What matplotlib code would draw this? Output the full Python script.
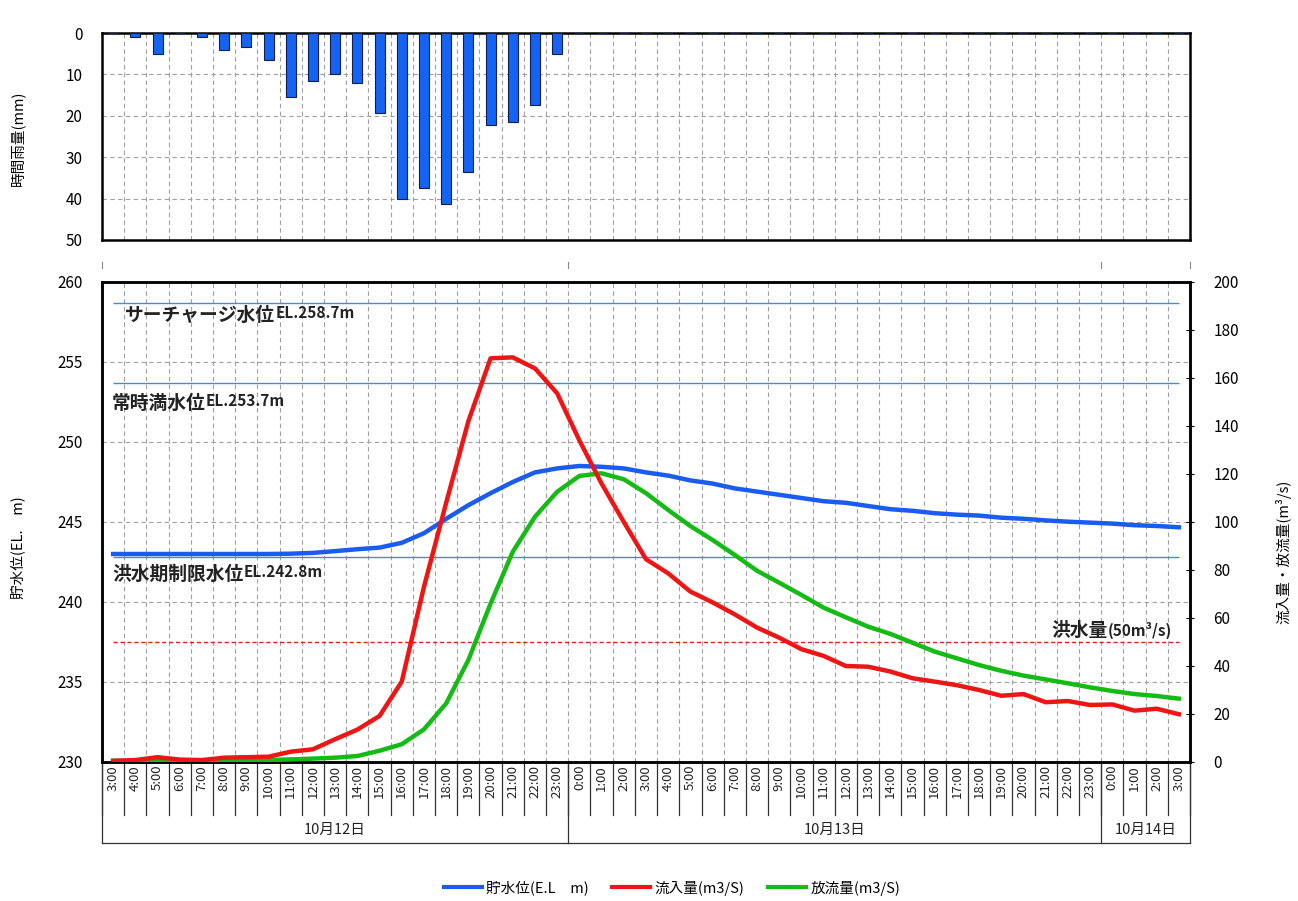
import numpy as np
import matplotlib
matplotlib.use('Agg')
import matplotlib.pyplot as plt
from matplotlib.lines import Line2D

plt.rcParams['font.family'] = ['Noto Sans CJK JP', 'DejaVu Sans']

# ---------------- data ----------------
hour_labels = ['3:00', '4:00', '5:00', '6:00', '7:00', '8:00', '9:00', '10:00', '11:00', '12:00',
               '13:00', '14:00', '15:00', '16:00', '17:00', '18:00', '19:00', '20:00', '21:00',
               '22:00', '23:00',
               '0:00', '1:00', '2:00', '3:00', '4:00', '5:00', '6:00', '7:00', '8:00', '9:00',
               '10:00', '11:00', '12:00', '13:00', '14:00', '15:00', '16:00', '17:00', '18:00',
               '19:00', '20:00', '21:00', '22:00', '23:00',
               '0:00', '1:00', '2:00', '3:00']
day_labels = ['10月12日', '10月13日', '10月14日']
day_counts = [21, 24, 4]

rain = [0, 1, 5, 0, 1, 4, 3.5, 6.5, 15.5, 11.5, 10, 12, 19.3, 40, 37.4, 41.3, 33.6, 22.3,
        21.6, 17.3, 5,
        0, 0, 0, 0, 0, 0, 0, 0, 0, 0, 0, 0, 0, 0, 0, 0, 0, 0, 0, 0, 0, 0, 0, 0, 0, 0, 0, 0]

level = [243.0, 243.0, 243.0, 243.0, 243.0, 243.0, 243.0, 243.0, 243.02, 243.07, 243.18,
         243.3, 243.4, 243.7, 244.3, 245.2, 246.05, 246.8, 247.5, 248.1, 248.35,
         248.5, 248.45, 248.35, 248.1, 247.9, 247.6, 247.4, 247.1, 246.9, 246.7, 246.5,
         246.3, 246.2, 246.0, 245.8, 245.7, 245.55, 245.46, 245.4, 245.27, 245.2, 245.1,
         245.02, 244.96, 244.9, 244.8, 244.75, 244.67]

inflow = [0.5, 0.8, 2, 1, 0.8, 1.8, 2, 2.2, 4.3, 5.3, 9.5, 13.5, 19.2, 33.5, 73, 108, 142,
          168.2, 168.6, 164, 153.6,
          134, 116, 100, 84.5, 78.6, 71, 66.5, 61.5, 56, 51.8, 47, 44.2, 40, 39.7, 37.7,
          34.9, 33.5, 32, 30, 27.6, 28.3, 24.9, 25.4, 23.75, 24, 21.4, 22.2, 19.9]

outflow = [0.5, 0.5, 0.5, 0.5, 0.5, 0.6, 0.7, 0.8, 1.1, 1.4, 1.8, 2.5, 4.7, 7.4, 13.6, 24.4,
           42.5, 66, 87.6, 102.2, 112.6,
           119.2, 120.3, 117.8, 112, 105, 98.3, 92.5, 86.25, 79.7, 74.7, 69.6, 64.3, 60.3,
           56.4, 53.4, 49.7, 46, 43.2, 40.4, 38, 36, 34.4, 32.8, 31.1, 29.6, 28.3, 27.5, 26.4]

ref_levels = [258.7, 253.7, 242.8]
ref_texts = [('サーチャージ水位', 'EL.258.7m'), ('常時満水位', 'EL.253.7m'),
             ('洪水期制限水位', 'EL.242.8m')]
flood_flow = 50

# ---------------- figure ----------------
W, H = 1298, 901
fig = plt.figure(figsize=(W / 100, H / 100), dpi=100)
L, R = 102, 1190
ax_r = fig.add_axes([L / W, 1 - 240 / H, (R - L) / W, (240 - 33) / H])
ax = fig.add_axes([L / W, 1 - 762 / H, (R - L) / W, (762 - 282) / H])
ax2 = ax.twinx()

n = len(hour_labels)
x = np.arange(n)
grid_kw = dict(color='#a0a0a0', linestyle=(0, (4, 3)), linewidth=0.8)

# ---- rainfall panel ----
ax_r.bar(x, rain, width=0.45, color='#1463F2', edgecolor='#0B1E5A', linewidth=0.8, zorder=3)
ax_r.set_xlim(-0.5, n - 0.5)
ax_r.set_ylim(50, 0)
ax_r.set_yticks([0, 10, 20, 30, 40, 50])
ax_r.set_xticks(np.arange(0.5, n - 1, 1.0), minor=True)
ax_r.set_xticks([])
ax_r.grid(True, which='minor', axis='x', **grid_kw)
ax_r.grid(True, which='major', axis='y', **grid_kw)
ax_r.tick_params(axis='x', which='both', length=0, labelbottom=False)
ax_r.tick_params(axis='y', length=0, labelsize=11, pad=14)
for s in ax_r.spines.values():
    s.set_linewidth(1.8)
    s.set_color('black')

# ---- main panel ----
ax.set_xlim(-0.5, n - 0.5)
ax.set_ylim(230, 260)
ax.set_yticks(np.arange(230, 261, 5))
ax2.set_ylim(0, 200)
ax2.set_yticks(np.arange(0, 201, 20))
ax.set_xticks(np.arange(0.5, n - 1, 1.0), minor=True)
ax.set_xticks([])
ax.grid(True, which='minor', axis='x', **grid_kw)
ax.grid(True, which='major', axis='y', **grid_kw)
ax.tick_params(axis='x', which='both', length=0, labelbottom=False)
ax.tick_params(axis='y', length=0, labelsize=11, pad=14)
ax2.tick_params(axis='y', direction='inout', length=6, labelsize=11, pad=14)
for a in (ax, ax2):
    for s in a.spines.values():
        s.set_linewidth(1.8)
        s.set_color('black')

ax.hlines(ref_levels, 0, n - 1, color='#3B8FD9', linewidth=1.0, zorder=2)
ax2.hlines(flood_flow, 0, n - 1, color='#E02020', linewidth=1.0, linestyle=(0, (3, 2)), zorder=2)

c_blue, c_red, c_green = '#1A5BF0', '#EE1515', '#15BB15'
ax.plot(x, level, color=c_blue, linewidth=3.2, zorder=4)
ax2.plot(x, outflow, color=c_green, linewidth=3.2, zorder=4)
ax2.plot(x, inflow, color=c_red, linewidth=3.2, zorder=5)

# reference annotations
ref_pos = [(0.55, 257.9), (-0.05, 252.4), (-0.05, 241.75)]
for (big, small), (tx, ty) in zip(ref_texts, ref_pos):
    t = ax.text(tx, ty, big, fontsize=13.5, fontweight='bold', ha='left', va='center',
                color='#222222', zorder=6)
    ax.annotate(small, xy=(1, 0.2), xycoords=t, fontsize=11, fontweight='bold',
                ha='left', va='bottom', color='#222222', zorder=6)
t = ax2.text(47.7, 55, '(50m³/s)', fontsize=11, fontweight='bold', ha='right', va='center',
             color='#222222', zorder=6)
ax2.annotate('洪水量', xy=(0, -0.1), xycoords=t, fontsize=13.5, fontweight='bold',
             ha='right', va='bottom', color='#222222', zorder=6)

# ---- multi-level category axis ----
tr = ax.get_xaxis_transform()
hour_row = -53 / 480
day_row = -81 / 480
for i, lab in enumerate(hour_labels):
    ax.text(i, -0.006, lab, rotation=90, ha='center', va='top', fontsize=9.5,
            transform=tr, clip_on=False, color='#222222')
for b in np.arange(-0.5, n, 1.0):
    ax.plot([b, b], [0, hour_row], transform=tr, clip_on=False, color='#333333', lw=0.9)
start = 0
bounds = [-0.5]
for lab, cnt in zip(day_labels, day_counts):
    ax.text(start + (cnt - 1) / 2, -68 / 480, lab, ha='center', va='center', fontsize=10.5,
            transform=tr, clip_on=False, color='#222222')
    start += cnt
    bounds.append(start - 0.5)
for b in bounds:
    ax.plot([b, b], [0, day_row], transform=tr, clip_on=False, color='#333333', lw=0.9)
ax.plot([-0.5, n - 0.5], [day_row, day_row], transform=tr, clip_on=False, color='#333333', lw=0.9)
# small marks between the panels
for b in bounds:
    ax.plot([b, b], [1.029, 1.042], transform=tr, clip_on=False, color='#888888', lw=0.8)

# ---- axis titles ----
fig.text(18 / W, 1 - 138 / H, '時間雨量(mm)', rotation=90, ha='center', va='center', fontsize=10.5)
fig.text(18 / W, 1 - 548 / H, '貯水位(EL.　m)', rotation=90, ha='center', va='center', fontsize=10.5)
fig.text(1283 / W, 1 - 552 / H, '流入量・放流量(m³/s)', rotation=90, ha='center', va='center',
         fontsize=10.5)

# ---- legend ----
handles = [Line2D([], [], color=c_blue, lw=3), Line2D([], [], color=c_red, lw=3),
           Line2D([], [], color=c_green, lw=3)]
fig.legend(handles, ['貯水位(E.L　m)', '流入量(m3/S)', '放流量(m3/S)'], loc='center',
           bbox_to_anchor=(672 / W, 1 - 888 / H), ncol=3, frameon=False, fontsize=10.5,
           handlelength=2.6, handletextpad=0.3, columnspacing=1.6)

fig.savefig('out.png', dpi=100, facecolor='white')
